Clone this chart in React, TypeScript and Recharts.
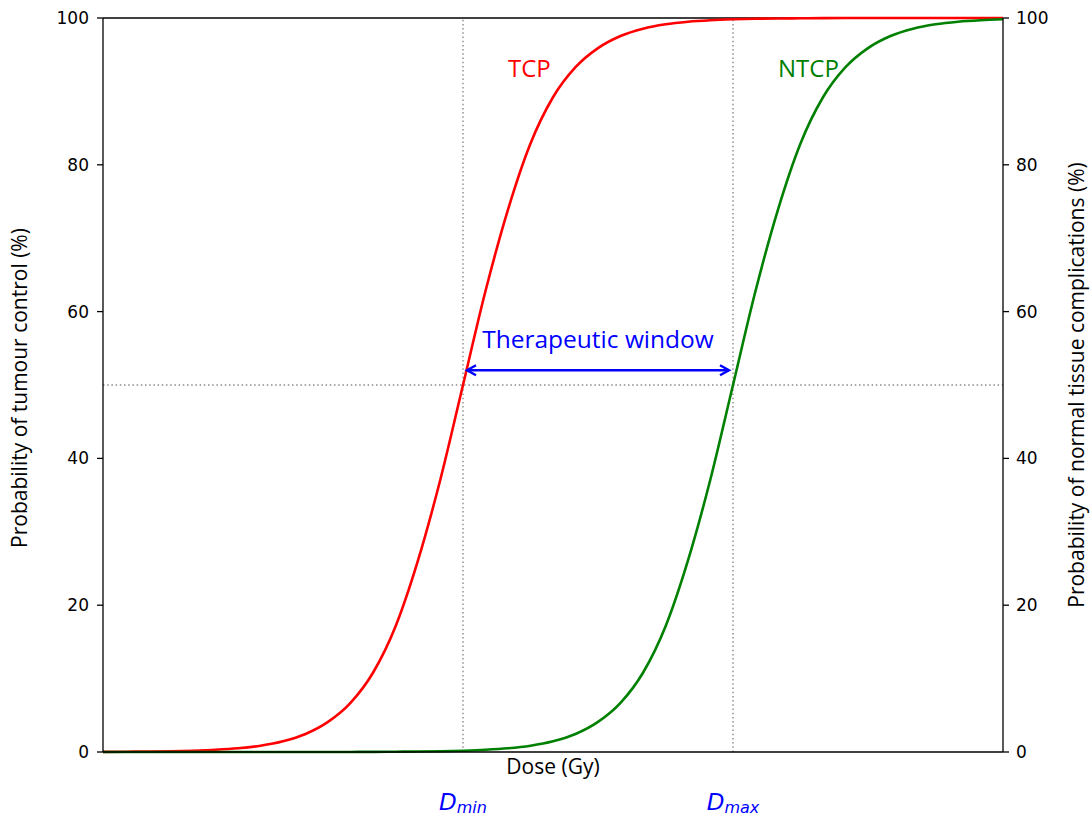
import { LineChart, Line, XAxis, YAxis, ReferenceLine, ReferenceDot, Label } from 'recharts';

// dose axis (arbitrary units, no tick labels)
const doses = [
  0, 2.5, 5, 7.5, 10, 12.5, 15, 17.5, 20, 22.5, 25, 27.5, 30, 32.5, 35, 37.5, 40, 42.5, 45, 47.5,
  50, 52.5, 55, 57.5, 60, 62.5, 65, 67.5, 70, 72.5, 75, 77.5, 80, 82.5, 85, 87.5, 90, 92.5, 95, 97.5, 100,
];

// tumour control probability (%)
const tcp = [
  0.02, 0.04, 0.06, 0.1, 0.18, 0.3, 0.5, 0.85, 1.45, 2.45, 4.1, 6.7, 10.8, 17.1, 26.1, 37.2, 50, 62.8, 73.9, 82.9,
  89.2, 93.3, 95.9, 97.55, 98.55, 99.15, 99.5, 99.7, 99.82, 99.9, 99.94, 99.96, 99.98, 99.99, 99.99, 100, 100, 100, 100, 100, 100,
];

// normal tissue complication probability (%)
const ntcp = [
  0, 0, 0, 0, 0, 0, 0, 0, 0, 0, 0, 0.01, 0.02, 0.04, 0.06, 0.1, 0.18, 0.3, 0.5, 0.85,
  1.45, 2.45, 4.1, 6.7, 10.8, 17.1, 26.1, 37.2, 50, 62.8, 73.9, 82.9, 89.2, 93.3, 95.9, 97.55, 98.55, 99.15, 99.5, 99.7, 99.82,
];

const windowEdges = [40, 70]; // D_min, D_max
const windowSubscripts = ['min', 'max'];
const halfLevel = 50;
const arrowLevel = 52;
const percentTicks = [0, 20, 40, 60, 80, 100];

const data = doses.map((dose, i) => ({ dose, tcp: tcp[i], ntcp: ntcp[i] }));

const LABEL_FONT = '"Open Sans", "Noto Sans", sans-serif';
const TICK_FONT = '"DejaVu Sans", sans-serif';

const DoseTick = ({ x, y, payload }: any) => {
  const idx = windowEdges.indexOf(payload.value);
  return (
    <text x={x} y={y + 58} textAnchor="middle" fill="#0000ff" fontFamily={TICK_FONT} fontStyle="italic">
      <tspan fontSize={23}>D</tspan>
      <tspan fontSize={16} dy={3}>{windowSubscripts[idx]}</tspan>
    </text>
  );
};

const DoseTitle = ({ viewBox }: any) => (
  <text x={viewBox.x + viewBox.width / 2} y={viewBox.y + 22} textAnchor="middle"
    fontSize={21} fontFamily={LABEL_FONT} fill="#000">
    Dose (Gy)
  </text>
);

const sideTitle = (text: string, dx: number, cy: number) => ({ viewBox }: any) => {
  const cx = viewBox.x + dx;
  return (
    <text x={cx} y={cy} transform={`rotate(-90, ${cx}, ${cy})`} textAnchor="middle"
      fontSize={21} fontFamily={LABEL_FONT} fill="#000">
      {text}
    </text>
  );
};

const curveText = (text: string, color: string, anchor: string, size = 24) => (p: any) => (
  <text x={p.cx} y={p.cy} textAnchor={anchor} fontSize={size} fontFamily={LABEL_FONT} fill={color}>
    {text}
  </text>
);

// double-headed arrow spanning the therapeutic window
const WindowArrow = ({ x1, y1, x2 }: any) => {
  const a = x1 + 4;
  const b = x2 - 4;
  const y = y1;
  return (
    <g stroke="#0000ff" strokeWidth={2.4} fill="none">
      <line x1={a} y1={y} x2={b} y2={y} />
      <polyline points={`${a + 9},${y - 5} ${a},${y} ${a + 9},${y + 5}`} />
      <polyline points={`${b - 9},${y - 5} ${b},${y} ${b - 9},${y + 5}`} />
    </g>
  );
};

const spine = { stroke: '#000', strokeWidth: 1.3 };
const dotted = { stroke: '#8a8a8a', strokeWidth: 1.4, strokeDasharray: '1.5 2.7' };

export default function App() {
  return (
    <div style={{ position: 'absolute', left: 0, top: 0, background: '#fff' }}>
      <LineChart width={1091} height={816} data={data} margin={{ top: 18, right: 0, bottom: 0, left: 0 }}>
        <XAxis dataKey="dose" type="number" domain={[0, 100]} ticks={windowEdges} interval={0}
          height={64} axisLine={spine} tickLine={false} tickSize={0} tickMargin={0} tick={<DoseTick />}>
          <Label content={DoseTitle} />
        </XAxis>
        <YAxis yAxisId="left" type="number" domain={[0, 100]} ticks={percentTicks} interval={0} width={103}
          axisLine={spine} tickLine={spine} tickSize={6} tickMargin={8}
          tick={{ fill: '#000', fontSize: 17, fontFamily: TICK_FONT }}>
          <Label content={sideTitle('Probability of tumour control (%)', 27, 388)} />
        </YAxis>
        <YAxis yAxisId="right" orientation="right" type="number" domain={[0, 100]} ticks={percentTicks}
          interval={0} width={88} axisLine={spine} tickLine={spine} tickSize={6} tickMargin={7}
          tick={{ fill: '#000', fontSize: 17, fontFamily: TICK_FONT }}>
          <Label content={sideTitle('Probability of normal tissue complications (%)', 81, 385)} />
        </YAxis>

        <ReferenceLine yAxisId="left" y={100} {...spine} />
        <ReferenceLine yAxisId="left" y={halfLevel} {...dotted} />
        {windowEdges.map((d) => (
          <ReferenceLine key={d} yAxisId="left" x={d} {...dotted} />
        ))}

        <Line yAxisId="left" dataKey="tcp" type="monotone" stroke="#ff0000" strokeWidth={2.6}
          dot={false} activeDot={false} isAnimationActive={false} />
        <Line yAxisId="right" dataKey="ntcp" type="monotone" stroke="#008000" strokeWidth={2.6}
          dot={false} activeDot={false} isAnimationActive={false} />

        <ReferenceLine yAxisId="left"
          segment={[{ x: windowEdges[0], y: arrowLevel }, { x: windowEdges[1], y: arrowLevel }]}
          shape={WindowArrow} />
        <ReferenceDot yAxisId="left" x={45} y={92} r={0} shape={curveText('TCP', '#ff0000', 'start')} />
        <ReferenceDot yAxisId="left" x={75} y={92} r={0} shape={curveText('NTCP', '#008000', 'start')} />
        <ReferenceDot yAxisId="left" x={55} y={55} r={0}
          shape={curveText('Therapeutic window', '#0000ff', 'middle', 24.5)} />
      </LineChart>
    </div>
  );
}
